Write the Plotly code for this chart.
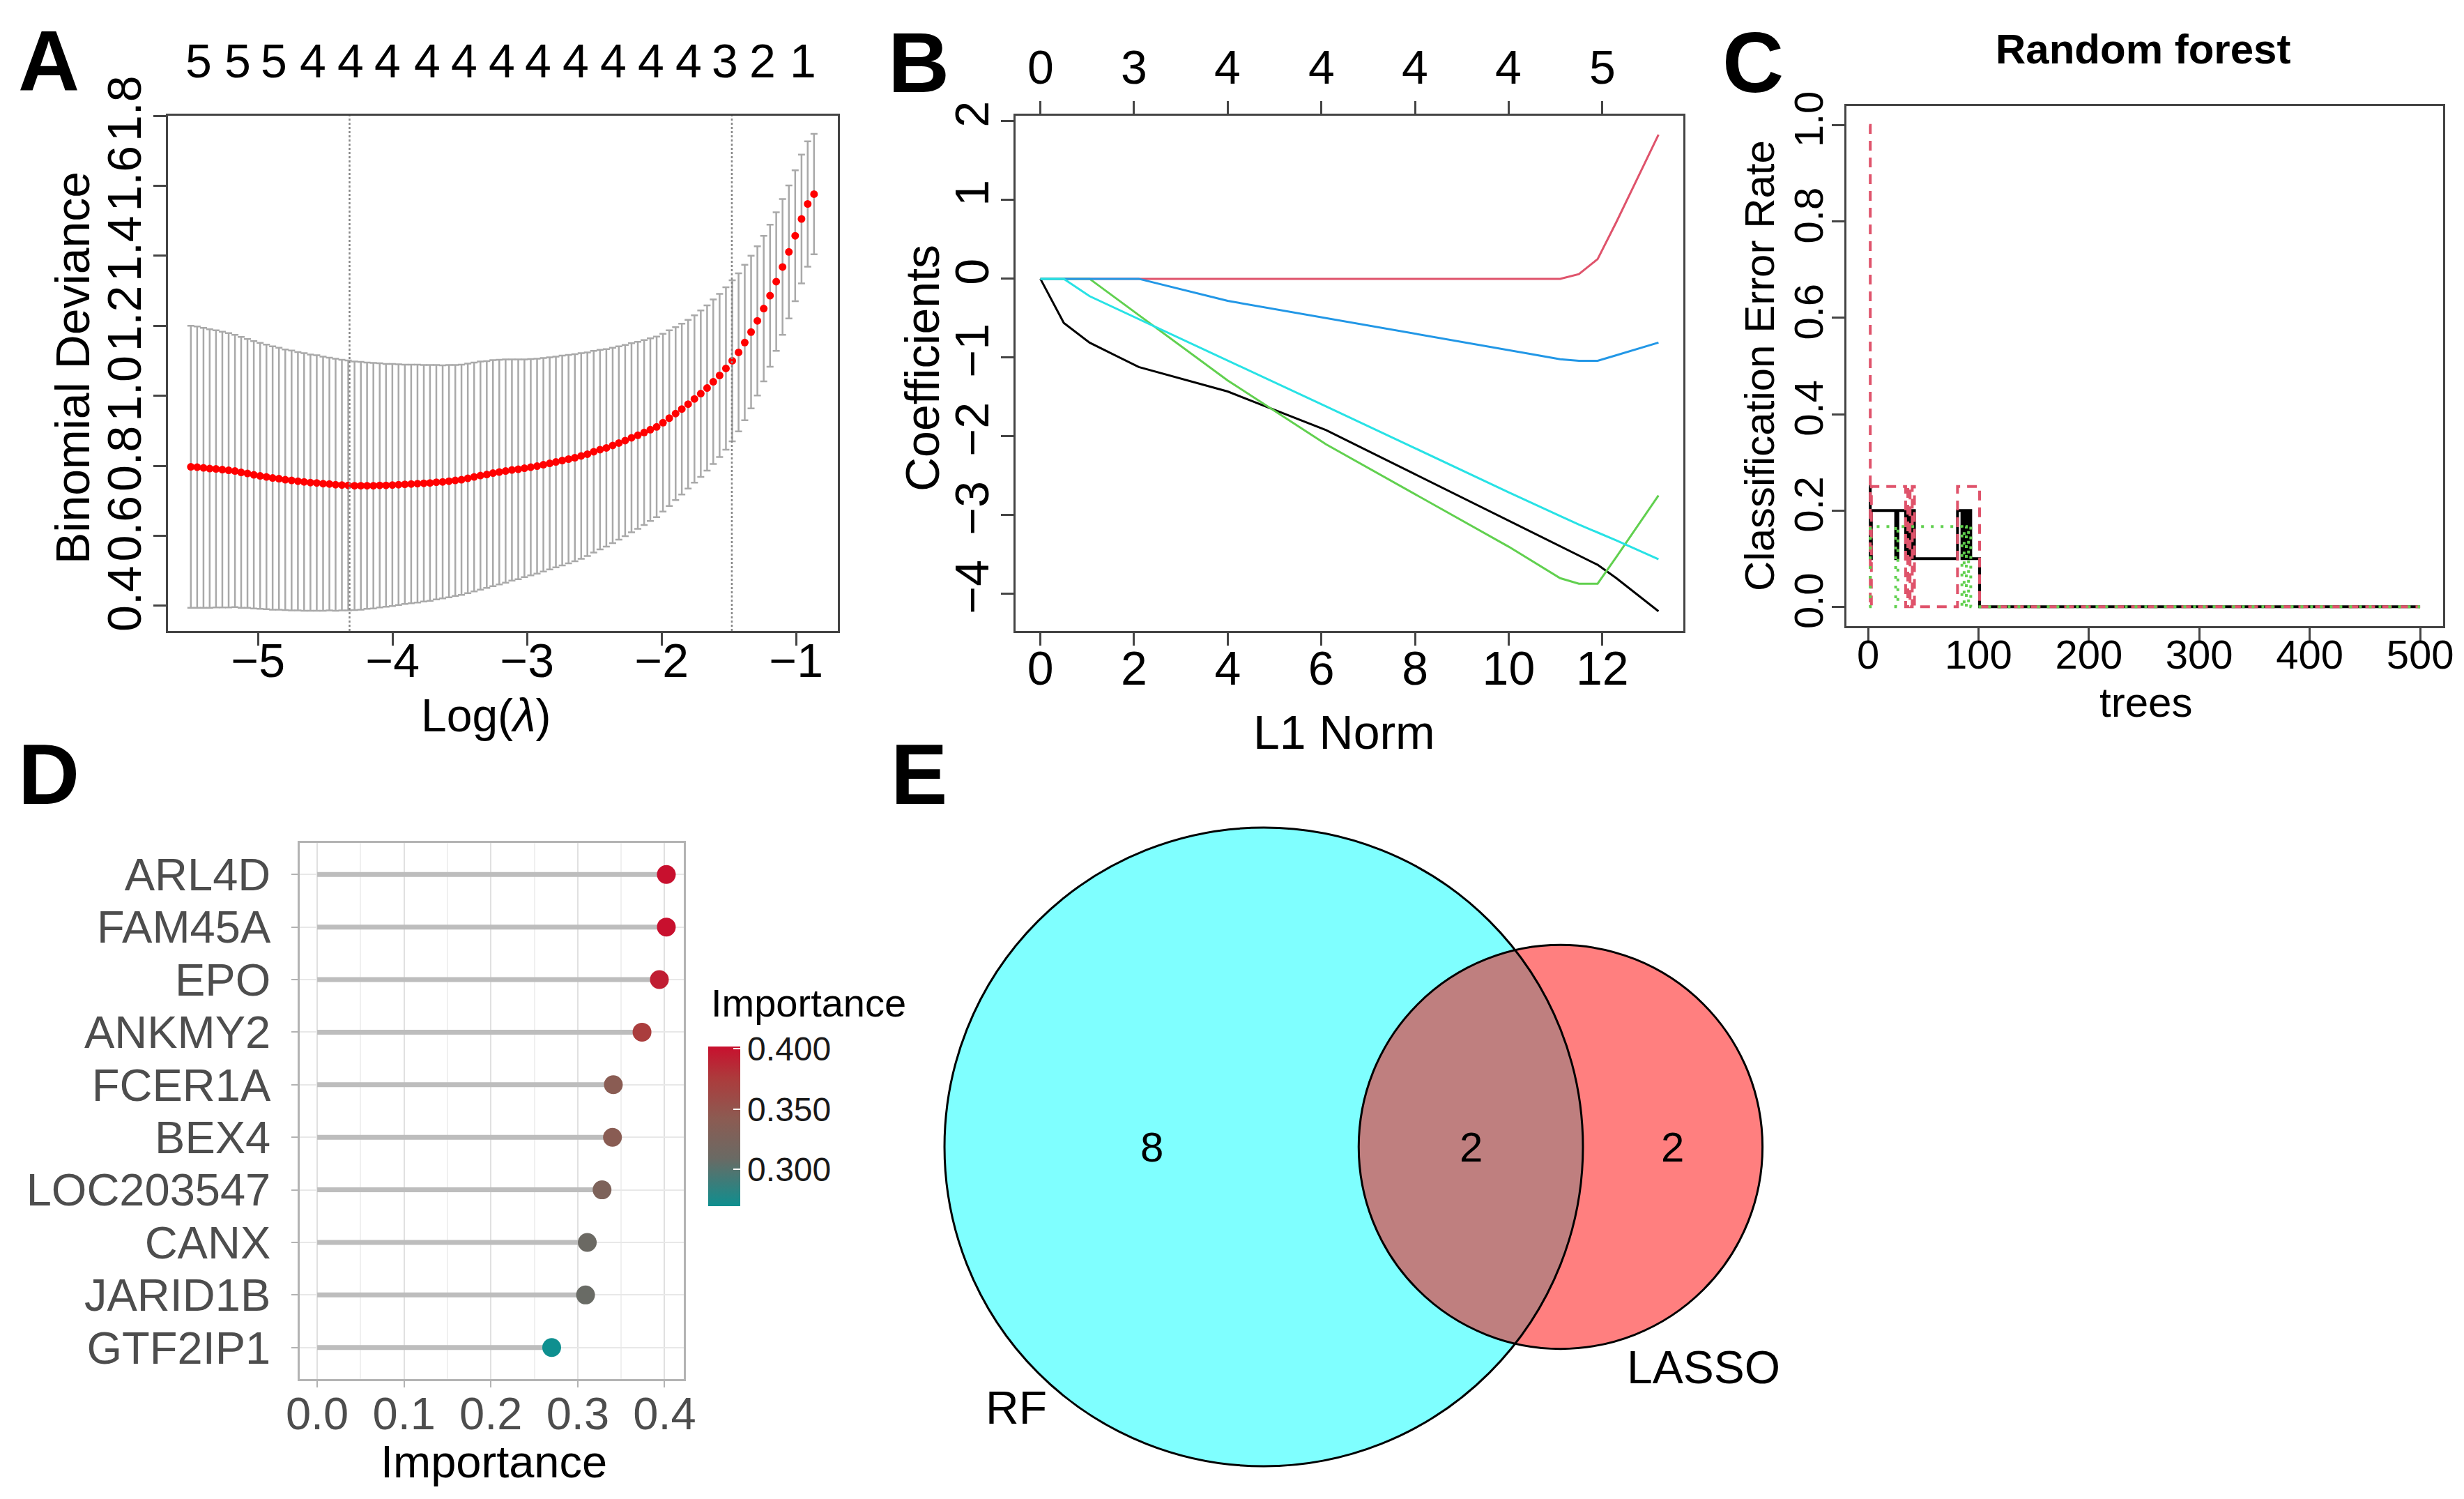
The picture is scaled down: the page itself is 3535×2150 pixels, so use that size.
import math
import plotly.graph_objects as go

# ---------------- values ----------------
# A: cross-validated binomial deviance along the lambda path
LOG_LAMBDA = [
    -5.500, -5.453, -5.406, -5.360, -5.313, -5.266, -5.219, -5.172, -5.126, -5.079,
    -5.032, -4.985, -4.938, -4.892, -4.845, -4.798, -4.751, -4.704, -4.658, -4.611,
    -4.564, -4.517, -4.470, -4.424, -4.377, -4.330, -4.283, -4.236, -4.190, -4.143,
    -4.096, -4.049, -4.002, -3.956, -3.909, -3.862, -3.815, -3.768, -3.722, -3.675,
    -3.628, -3.581, -3.534, -3.488, -3.441, -3.394, -3.347, -3.300, -3.254, -3.207,
    -3.160, -3.113, -3.066, -3.020, -2.973, -2.926, -2.879, -2.832, -2.786, -2.739,
    -2.692, -2.645, -2.598, -2.552, -2.505, -2.458, -2.411, -2.364, -2.318, -2.271,
    -2.224, -2.177, -2.130, -2.084, -2.037, -1.990, -1.943, -1.896, -1.850, -1.803,
    -1.756, -1.709, -1.662, -1.616, -1.569, -1.522, -1.475, -1.428, -1.382, -1.335,
    -1.288, -1.241, -1.194, -1.148, -1.101, -1.054, -1.007, -0.960, -0.914, -0.867,
]
CV_MEAN = [
    0.797, 0.796, 0.794, 0.792, 0.791, 0.789, 0.787, 0.785, 0.781, 0.778,
    0.774, 0.771, 0.768, 0.765, 0.763, 0.760, 0.758, 0.756, 0.754, 0.752,
    0.751, 0.749, 0.748, 0.746, 0.745, 0.744, 0.743, 0.743, 0.743, 0.743,
    0.744, 0.744, 0.745, 0.746, 0.747, 0.748, 0.749, 0.750, 0.751, 0.753,
    0.754, 0.756, 0.758, 0.760, 0.764, 0.768, 0.772, 0.775, 0.779, 0.782,
    0.785, 0.788, 0.790, 0.793, 0.796, 0.799, 0.803, 0.807, 0.811, 0.815,
    0.819, 0.823, 0.828, 0.833, 0.840, 0.846, 0.851, 0.858, 0.865, 0.872,
    0.880, 0.887, 0.895, 0.903, 0.911, 0.923, 0.936, 0.949, 0.962, 0.976,
    0.991, 1.006, 1.022, 1.040, 1.058, 1.078, 1.100, 1.124, 1.152, 1.182,
    1.214, 1.249, 1.286, 1.326, 1.368, 1.411, 1.457, 1.505, 1.548, 1.576,
]
CV_SD = [
    0.403, 0.402, 0.400, 0.398, 0.396, 0.394, 0.392, 0.389, 0.387, 0.384,
    0.382, 0.380, 0.378, 0.376, 0.374, 0.372, 0.371, 0.369, 0.368, 0.366,
    0.365, 0.363, 0.361, 0.360, 0.358, 0.357, 0.355, 0.354, 0.352, 0.351,
    0.349, 0.347, 0.346, 0.344, 0.342, 0.341, 0.340, 0.338, 0.337, 0.335,
    0.333, 0.332, 0.330, 0.329, 0.328, 0.327, 0.326, 0.324, 0.323, 0.321,
    0.319, 0.316, 0.314, 0.311, 0.309, 0.307, 0.305, 0.303, 0.301, 0.300,
    0.298, 0.296, 0.294, 0.291, 0.288, 0.285, 0.282, 0.279, 0.276, 0.273,
    0.270, 0.267, 0.264, 0.261, 0.258, 0.254, 0.251, 0.247, 0.244, 0.241,
    0.239, 0.238, 0.236, 0.235, 0.233, 0.232, 0.230, 0.226, 0.222, 0.218,
    0.213, 0.208, 0.203, 0.198, 0.194, 0.190, 0.187, 0.184, 0.179, 0.172,
]
LAMBDA_MIN = -4.32
LAMBDA_1SE = -1.478
NZERO_AT = [-5.44, -5.15, -4.88, -4.59, -4.31, -4.04, -3.74, -3.47, -3.19,
            -2.92, -2.64, -2.36, -2.08, -1.80, -1.53, -1.25, -0.95]
NZERO = ["5", "5", "5", "4", "4", "4", "4", "4", "4",
         "4", "4", "4", "4", "4", "3", "2", "1"]

# B: lasso coefficient paths against L1 norm
L1_NORM = [0, 0.5, 1.05, 2.1, 4.0, 6.1, 8.0, 10.0, 11.1, 11.5, 11.9, 12.3, 13.2]
COEF_1 = [0, -0.56, -0.81, -1.12, -1.43, -1.92, -2.48, -3.07, -3.39, -3.51, -3.63, -3.80, -4.22]
COEF_2 = [0, 0, 0, 0, 0, 0, 0, 0, 0, 0.06, 0.25, 0.72, 1.83]
COEF_3 = [0, 0, 0, -0.46, -1.29, -2.10, -2.73, -3.40, -3.80, -3.87, -3.87, -3.53, -2.75]
COEF_4 = [0, 0, 0, 0, -0.28, -0.50, -0.70, -0.91, -1.02, -1.04, -1.04, -0.97, -0.81]
COEF_5 = [0, 0, -0.22, -0.51, -1.04, -1.62, -2.15, -2.71, -3.01, -3.12, -3.22, -3.32, -3.56]
DF_AT = [0, 2, 4, 6, 8, 10, 12]
DF = ["0", "3", "4", "4", "4", "4", "5"]

# C: random forest error rates (value changes only, step lines)
OOB_TREES = [1, 2, 3, 25, 27, 34, 36, 38, 40, 42, 81, 85, 87, 89, 91, 93, 101, 500]
OOB_ERR = [0.25, 0.1, 0.2, 0.1, 0.2, 0.1, 0.2, 0.1, 0.2, 0.1, 0.2, 0.1, 0.2, 0.1, 0.2, 0.1, 0.0, 0.0]
C1_TREES = [1, 2, 3, 34, 36, 38, 40, 42, 81, 101, 500]
C1_ERR = [1.0, 0.0, 0.25, 0.0, 0.25, 0.0, 0.25, 0.0, 0.25, 0.0, 0.0]
C2_TREES = [1, 2, 25, 27, 85, 87, 89, 91, 93, 500]
C2_ERR = [0.0, 0.1667, 0.0, 0.1667, 0.0, 0.1667, 0.0, 0.1667, 0.0, 0.0]

# D: random forest importance
GENES = ["ARL4D", "FAM45A", "EPO", "ANKMY2", "FCER1A", "BEX4",
         "LOC203547", "CANX", "JARID1B", "GTF2IP1"]
IMPORTANCE = [0.402, 0.402, 0.394, 0.374, 0.341, 0.340, 0.328, 0.311, 0.309, 0.270]

# E: Venn counts
RF_ONLY = 8
SHARED = 2
LASSO_ONLY = 2

# ---------------- layout helpers ----------------
W, H = 3535, 2150
FONT = "Liberation Sans, Arial, sans-serif"
NARROW = "Liberation Sans Narrow, Arial Narrow, Liberation Sans, sans-serif"


def fx(p):
    return p / W


def fy(p):
    return 1 - p / H


def base(size):
    return dict(showline=True, linecolor="#444444", linewidth=3, mirror=True,
                ticks="outside", ticklen=18, tickwidth=3, tickcolor="#444444",
                showgrid=False, zeroline=False, automargin=False,
                tickfont=dict(family=FONT, size=size, color="black"))


fig = go.Figure()

# A
fig.add_trace(go.Scatter(
    x=LOG_LAMBDA, y=CV_MEAN, mode="markers",
    marker=dict(color="#FF0000", size=11),
    error_y=dict(type="data", array=CV_SD, color="#A9A9A9", thickness=2.5, width=5),
    xaxis="x", yaxis="y", showlegend=False, hoverinfo="skip"))

# B
for ys, col in zip([COEF_1, COEF_2, COEF_3, COEF_4, COEF_5],
                   ["#000000", "#DF536B", "#61D04F", "#2297E6", "#28E2E5"]):
    fig.add_trace(go.Scatter(x=L1_NORM, y=ys, mode="lines",
                             line=dict(color=col, width=3),
                             xaxis="x3", yaxis="y3", showlegend=False))

# C
fig.add_trace(go.Scatter(x=OOB_TREES, y=OOB_ERR, mode="lines", line_shape="hv",
                         line=dict(color="black", width=4),
                         xaxis="x5", yaxis="y5", showlegend=False))
fig.add_trace(go.Scatter(x=C1_TREES, y=C1_ERR, mode="lines", line_shape="hv",
                         line=dict(color="#DF536B", width=4, dash="14px,10px"),
                         xaxis="x5", yaxis="y5", showlegend=False))
fig.add_trace(go.Scatter(x=C2_TREES, y=C2_ERR, mode="lines", line_shape="hv",
                         line=dict(color="#61D04F", width=4, dash="4px,10px"),
                         xaxis="x5", yaxis="y5", showlegend=False))

# D
seg_x, seg_y = [], []
for g, v in zip(GENES, IMPORTANCE):
    seg_x += [0, v, None]
    seg_y += [g, g, None]
fig.add_trace(go.Scatter(x=seg_x, y=seg_y, mode="lines",
                         line=dict(color="#BDBDBD", width=7),
                         xaxis="x6", yaxis="y6", showlegend=False))
fig.add_trace(go.Scatter(
    x=IMPORTANCE, y=GENES, mode="markers", xaxis="x6", yaxis="y6", showlegend=False,
    marker=dict(size=27, color=IMPORTANCE, cmin=min(IMPORTANCE), cmax=max(IMPORTANCE),
                colorscale=[[0, "#0E8F8F"], [0.3, "#6A6A64"], [0.55, "#8C5B52"],
                            [0.8, "#AC3B3C"], [1, "#C8102E"]],
                colorbar=dict(
                    x=fx(1008), xanchor="left", y=fy(1607), yanchor="middle",
                    len=229, lenmode="pixels", thickness=46, xpad=0, ypad=0,
                    outlinewidth=0, ticks="inside", ticklen=10, tickwidth=2,
                    tickcolor="white", tickvals=[0.30, 0.35, 0.40],
                    ticktext=["0.300", "0.350", "0.400"],
                    tickfont=dict(family=FONT, size=48, color="#1A1A1A")))))

# E: Venn geometry from the counts (areas proportional to set sizes)
r1 = math.sqrt((RF_ONLY + SHARED) / math.pi)
r2 = math.sqrt((LASSO_ONLY + SHARED) / math.pi)


def lens(d):
    a1 = math.acos((d * d + r1 * r1 - r2 * r2) / (2 * d * r1))
    a2 = math.acos((d * d + r2 * r2 - r1 * r1) / (2 * d * r2))
    k = (-d + r1 + r2) * (d + r1 - r2) * (d - r1 + r2) * (d + r1 + r2)
    return r1 * r1 * a1 + r2 * r2 * a2 - 0.5 * math.sqrt(k)


lo, hi = abs(r1 - r2) + 1e-9, r1 + r2 - 1e-9
for _ in range(80):
    mid = (lo + hi) / 2
    if lens(mid) > SHARED:
        lo = mid
    else:
        hi = mid
dist = (lo + hi) / 2

S = 256.7            # pixels per Venn unit
CX, CY = 1805, 1637  # pixel centre of the RF circle

shapes = []
for cx, r, col in [(0, r1, "rgba(0,255,255,0.5)"), (dist, r2, "rgba(255,0,0,0.5)")]:
    shapes.append(dict(type="circle", xref="x7", yref="y7", x0=cx - r, x1=cx + r,
                       y0=-r, y1=r, fillcolor=col, line=dict(width=0), layer="below"))
for cx, r in [(0, r1), (dist, r2)]:
    shapes.append(dict(type="circle", xref="x7", yref="y7", x0=cx - r, x1=cx + r,
                       y0=-r, y1=r, fillcolor="rgba(0,0,0,0)",
                       line=dict(color="black", width=3)))
for xv in [LAMBDA_MIN, LAMBDA_1SE]:
    shapes.append(dict(type="line", xref="x", yref="y domain", x0=xv, x1=xv, y0=0, y1=1,
                       line=dict(color="#888888", width=2.5, dash="dot")))

ann = []


def note(text, x, y, size, angle=0, family=FONT, color="black", xref="paper",
         yref="paper", xanchor="center"):
    ann.append(dict(text=text, x=x, y=y, showarrow=False, textangle=angle,
                    font=dict(family=family, size=size, color=color),
                    xanchor=xanchor, yanchor="middle", xref=xref, yref=yref))


for letter, px_, py_ in [("A", 62, 80), ("B", 1310, 82), ("C", 2507, 82),
                         ("D", 62, 1103), ("E", 1310, 1103)]:
    note("<b>%s</b>" % letter, fx(px_), fy(py_), 122, family=NARROW)

# number of non-zero coefficients on the top of A and B
for xv, t in zip(NZERO_AT, NZERO):
    note(t, xv, fy(79), 68, xref="x")
for xv, t in zip(DF_AT, DF):
    note(t, xv, fy(88), 68, xref="x3")

note("Binomial Deviance", fx(96), fy(520), 68, angle=-90)
note("Log(<i>λ</i>)", fx(689), fy(1018), 66)
note("Coefficients", fx(1315), fy(520), 68, angle=-90)
note("L1 Norm", fx(1920), fy(1042), 68)
note("Classification Error Rate", fx(2516), fy(517), 60, angle=-90)
note("trees", fx(3070), fy(1000), 60)
note("<b>Random forest</b>", fx(3066), fy(62), 60)
note("Importance", fx(700), fy(2088), 65)
note("Importance", fx(1010), fy(1430), 56, xanchor="left")  # colour bar title

# Venn labels
note(str(RF_ONLY), (-r1 + dist - r2) / 2, 0, 60, xref="x7", yref="y7")
note(str(SHARED), (dist - r2 + r1) / 2, 0, 60, xref="x7", yref="y7")
note(str(LASSO_ONLY), (r1 + dist + r2) / 2, 0, 60, xref="x7", yref="y7")
a = math.radians(-133.5)
note("RF", 1.125 * r1 * math.cos(a), 1.125 * r1 * math.sin(a), 66, xref="x7", yref="y7")
a = math.radians(-57)
note("LASSO", dist + 1.30 * r2 * math.cos(a), 1.30 * r2 * math.sin(a), 66,
     xref="x7", yref="y7")

yA = [fy(897), fy(158)]
d_axis = dict(showline=True, mirror=True, linecolor="#B3B3B3", linewidth=2.5,
              ticks="outside", ticklen=9, tickwidth=2, tickcolor="#B3B3B3",
              zeroline=False, automargin=False,
              tickfont=dict(family=FONT, size=65, color="#4D4D4D"))

fig.update_layout(
    width=W, height=H, margin=dict(l=0, r=0, t=0, b=0, autoexpand=False),
    paper_bgcolor="white", plot_bgcolor="white",
    font=dict(family=FONT),
    showlegend=False,
    shapes=shapes, annotations=ann,
    # A
    xaxis=dict(base(68), domain=[fx(233), fx(1194)], range=[-5.67, -0.69], anchor="y",
               tickvals=[-5, -4, -3, -2, -1], ticklabelstandoff=-37),
    yaxis=dict(base(68), domain=yA, range=[0.328, 1.80], anchor="x",
               tickvals=[0.4, 0.6, 0.8, 1.0, 1.2, 1.4, 1.6, 1.8],
               ticktext=["0.4", "0.6", "0.8", "1.0", "1.2", "1.4", "1.6", "1.8"],
               tickangle=-90, ticklabelstandoff=-9),
    # B
    xaxis3=dict(base(68), domain=[fx(1449), fx(2407)], range=[-0.53, 13.73], anchor="y3",
                mirror="ticks", tickvals=[0, 2, 4, 6, 8, 10, 12], ticklabelstandoff=-26),
    yaxis3=dict(base(68), domain=yA, range=[-4.47, 2.07], anchor="x3",
                tickvals=[-4, -3, -2, -1, 0, 1, 2], tickangle=-90, ticklabelstandoff=-9),
    # C
    xaxis5=dict(base(58), domain=[fx(2641), fx(3497)], range=[-19.6, 520.8], anchor="y5",
                tickvals=[0, 100, 200, 300, 400, 500], ticklabelstandoff=-30),
    yaxis5=dict(base(58), domain=[fy(890), fy(144)], range=[-0.04, 1.04], anchor="x5",
                tickvals=[0, 0.2, 0.4, 0.6, 0.8, 1.0],
                ticktext=["0.0", "0.2", "0.4", "0.6", "0.8", "1.0"],
                tickangle=-90, ticklabelstandoff=-10),
    # D
    xaxis6=dict(d_axis, domain=[fx(422), fx(973)], range=[-0.0201, 0.4221], anchor="y6",
                tickvals=[0, 0.1, 0.2, 0.3, 0.4],
                ticktext=["0.0", "0.1", "0.2", "0.3", "0.4"],
                showgrid=True, gridcolor="#E0E0E0", gridwidth=2,
                minor=dict(dtick=0.05, tick0=0, showgrid=True, gridcolor="#F0F0F0",
                           gridwidth=1.5, ticks=""),
                ticklabelstandoff=-18),
    yaxis6=dict(d_axis, domain=[fy(1970), fy(1201)], type="category",
                categoryorder="array", categoryarray=GENES[::-1],
                range=[-0.6, len(GENES) - 0.4], anchor="x6",
                tickmode="array", tickvals=GENES, ticktext=GENES,
                showgrid=True, gridcolor="#E8E8E8", gridwidth=2,
                ticklabelstandoff=17),
    # E
    xaxis7=dict(domain=[fx(1250), fx(2650)], range=[(1250 - CX) / S, (2650 - CX) / S],
                anchor="y7", visible=False, automargin=False),
    yaxis7=dict(domain=[fy(2150), fy(1150)], range=[(CY - 2150) / S, (CY - 1150) / S],
                anchor="x7", visible=False, automargin=False),
)

fig.write_html("out.html")
